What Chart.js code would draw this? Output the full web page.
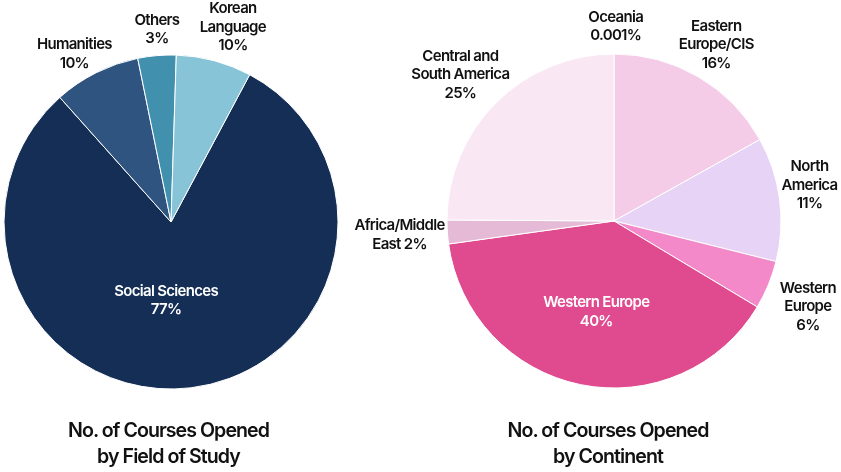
<!DOCTYPE html>
<html>
<head>
<meta charset="utf-8">
<script src="https://cdn.jsdelivr.net/npm/chart.js@4.4.0/dist/chart.umd.min.js"></script>
<style>
  html,body{margin:0;padding:0;background:#fff;}
  body{width:841px;height:472px;position:relative;overflow:hidden;font-family:Inter,Roboto,"Noto Sans",sans-serif;}
  .wrap{position:absolute;top:0;}
  .ttl{position:absolute;width:320px;text-align:center;font:600 19.6px/25.6px Inter,Roboto,"Noto Sans",sans-serif;color:#111;letter-spacing:-0.95px;}
</style>
</head>
<body>
<div class="wrap" style="left:0px;width:340px;height:472px;"><canvas id="c1" width="340" height="472"></canvas></div>
<div class="wrap" style="left:340px;width:501px;height:472px;"><canvas id="c2" width="501" height="472"></canvas></div>
<div class="ttl" id="t1" style="left:8.5px;top:418px;"></div>
<div class="ttl" id="t2" style="left:448px;top:418px;"></div>
<script>
// ---------- data ----------
const fieldCategories = ['Social Sciences', 'Humanities', 'Others', 'Korean Language'];
const fieldValues = [80.6, 8.4, 3.7, 7.3];
const fieldLabelLines = [['Social Sciences', '77%'], ['Humanities', '10%'], ['Others', '3%'], ['Korean', 'Language', '10%']];
const fieldColors = ['#142e56', '#305480', '#4090ae', '#88c4d7'];
const fieldTitle = ['No. of Courses Opened', 'by Field of Study'];

const continentCategories = ['Oceania', 'Eastern Europe/CIS', 'North America', 'Western Europe (small)', 'Western Europe', 'Africa/Middle East', 'Central and South America'];
const continentValues = [0.001, 16.9, 12.0, 4.7, 39.2, 2.3, 24.9];
const continentLabelLines = [['Oceania', '0.001%'], ['Eastern', 'Europe/CIS', '16%'], ['North', 'America', '11%'], ['Western', 'Europe', '6%'], ['Western Europe', '40%'], ['Africa/Middle', 'East 2%'], ['Central and', 'South America', '25%']];
const continentColors = ['#f5d0e9', '#f4cce7', '#e7d3f5', '#f389c8', '#e04b8f', '#e5bad6', '#f9e7f4'];
const continentTitle = ['No. of Courses Opened', 'by Continent'];

// ---------- label layout (angle nudge in degrees, radius factor, colour) ----------
const fieldLabelLayout = [
  {da: 10.4, rf: 0.47, color: '#ffffff'},
  {da: -3.3, rf: 1.16, color: '#111111'},
  {da: 0.65, rf: 1.156, color: '#111111'},
  {da: 2.65, rf: 1.225, color: '#111111'}
];
const continentLabelLayout = [
  {da: 0.5, rf: 1.165, color: '#111111'},
  {da: -0.3, rf: 1.22, color: '#111111'},
  {da: -2.8, rf: 1.19, color: '#111111'},
  {da: 1.4, rf: 1.27, color: '#111111'},
  {da: -0.5, rf: 0.555, color: '#ffffff'},
  {da: 0, rf: 1.287, color: '#111111'},
  {da: -1.6, rf: 1.27, color: '#111111'}
];

document.getElementById('t1').innerHTML = fieldTitle.join('<br>');
document.getElementById('t2').innerHTML = continentTitle.join('<br>');

const sliceLabels = {
  id: 'sliceLabels',
  afterDatasetsDraw(chart, args, opts) {
    const ctx = chart.ctx;
    const meta = chart.getDatasetMeta(0);
    ctx.save();
    ctx.font = '600 15px Inter, Roboto, "Noto Sans", sans-serif';
    if ('letterSpacing' in ctx) ctx.letterSpacing = '-0.7px';
    ctx.textAlign = 'center';
    ctx.textBaseline = 'middle';
    const lh = 18.5;
    meta.data.forEach((arc, i) => {
      const p = arc.getProps(['x', 'y', 'startAngle', 'endAngle', 'outerRadius'], true);
      const lay = opts.layout[i];
      const a = (p.startAngle + p.endAngle) / 2 + lay.da * Math.PI / 180;
      const r = lay.rf * p.outerRadius;
      const cx = p.x + Math.cos(a) * r;
      const cy = p.y + Math.sin(a) * r;
      const lines = opts.lines[i];
      ctx.fillStyle = lay.color;
      lines.forEach((t, k) => {
        ctx.fillText(t, cx, cy + (k - (lines.length - 1) / 2) * lh);
      });
    });
    ctx.restore();
  }
};

function makePie(id, cats, vals, colors, rotation, padding, lines, layout) {
  return new Chart(document.getElementById(id), {
    type: 'pie',
    data: {
      labels: cats,
      datasets: [{
        data: vals,
        backgroundColor: colors,
        borderColor: '#ffffff',
        borderWidth: 1
      }]
    },
    options: {
      responsive: false,
      animation: false,
      rotation: rotation,
      radius: 167,
      layout: {padding: padding},
      plugins: {
        legend: {display: false},
        tooltip: {enabled: false},
        sliceLabels: {lines: lines, layout: layout}
      }
    },
    plugins: [sliceLabels]
  });
}

makePie('c1', fieldCategories, fieldValues, fieldColors, 28.1,
  {left: 4, right: 2, top: 55, bottom: 83}, fieldLabelLines, fieldLabelLayout);
makePie('c2', continentCategories, continentValues, continentColors, 0,
  {left: 107, right: 60, top: 54, bottom: 84}, continentLabelLines, continentLabelLayout);
</script>
</body>
</html>
